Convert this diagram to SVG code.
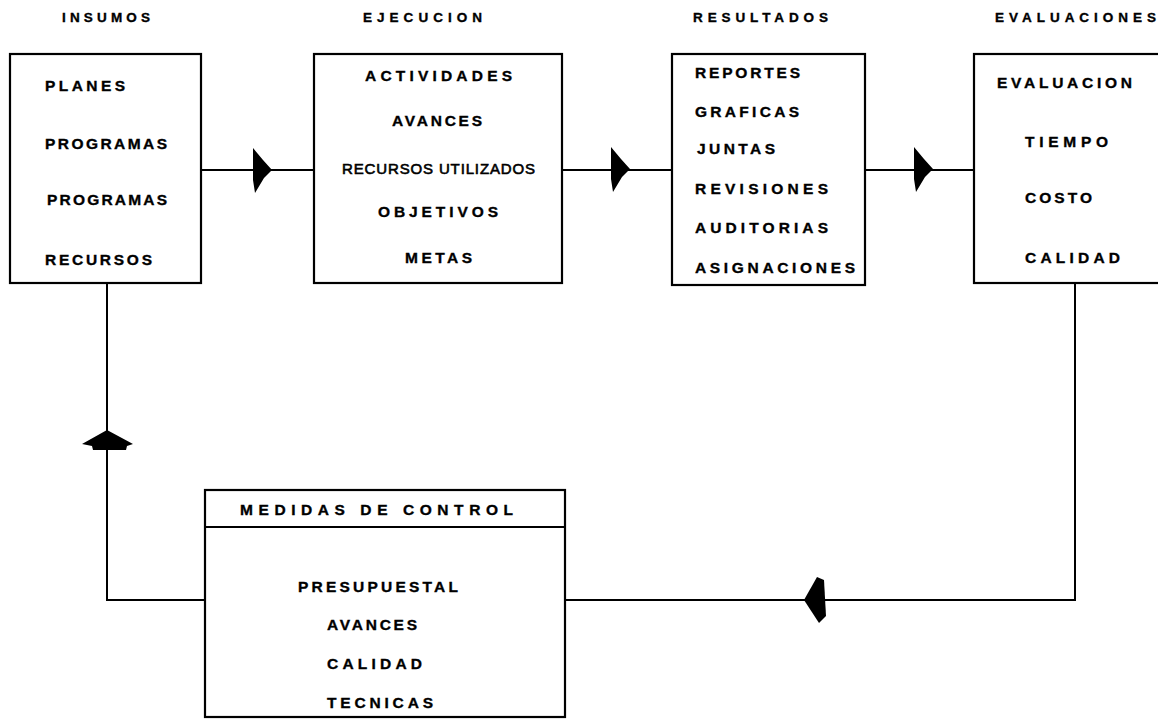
<svg xmlns="http://www.w3.org/2000/svg" width="1158" height="719" viewBox="0 0 1158 719">
  <style>
    .box { fill: #ffffff; stroke: #000000; stroke-width: 2.2; }
    .line { fill: none; stroke: #000000; stroke-width: 2; }
    .head { fill: #000000; stroke: none; }
    text { font-family: "Liberation Sans", Arial, sans-serif; font-weight: bold; fill: #000000; stroke: #000000; stroke-width: 0.35; }
    .title { font-size: 13.5px; }
    .item { font-size: 15.5px; }
    .small { font-size: 15px; font-weight: normal; stroke-width: 0.6; }
  </style>
  <defs>
    <!-- hand-drawn style arrowhead, apex at origin, pointing right -->
    <path id="arrowR" d="M-19,-22 L-9,-10 L0,0 L-8,8 L-17,23 L-19,10 Z"/>
  </defs>

  <rect width="1158" height="719" fill="#ffffff"/>

  <!-- column titles -->
  <g id="titles">
    <text class="title" x="62" y="22" textLength="88" lengthAdjust="spacing">INSUMOS</text>
    <text class="title" x="363" y="22" textLength="119" lengthAdjust="spacing">EJECUCION</text>
    <text class="title" x="693" y="22" textLength="135" lengthAdjust="spacing">RESULTADOS</text>
    <text class="title" x="995" y="22" textLength="161" lengthAdjust="spacing">EVALUACIONES</text>
  </g>

  <!-- connectors -->
  <g id="connectors">
    <line class="line" x1="201" y1="170" x2="314" y2="170"/>
    <line class="line" x1="562" y1="170" x2="672" y2="170"/>
    <line class="line" x1="865" y1="170" x2="974" y2="170"/>
    <polyline class="line" points="1075,283 1075,600 565,600"/>
    <polyline class="line" points="205,600 107,600 107,283"/>
    <use href="#arrowR" class="head" transform="translate(272,170)"/>
    <use href="#arrowR" class="head" transform="translate(630,169)"/>
    <use href="#arrowR" class="head" transform="translate(933,169)"/>
    <path class="head" d="M804,600 L817,577 L824,580 L826,616 L819,623 Z"/>
    <path class="head" d="M107,430 L133,444 L127,446 L126,450 L93,450 L92,446 L82,444 Z"/>
  </g>

  <g id="insumos">
    <rect class="box" x="10" y="54" width="191" height="229"/>
    <text class="item" x="45" y="91" textLength="80" lengthAdjust="spacing">PLANES</text>
    <text class="item" x="45" y="149" textLength="122" lengthAdjust="spacing">PROGRAMAS</text>
    <text class="item" x="47" y="205" textLength="120" lengthAdjust="spacing">PROGRAMAS</text>
    <text class="item" x="45" y="265" textLength="107" lengthAdjust="spacing">RECURSOS</text>
  </g>

  <g id="ejecucion">
    <rect class="box" x="314" y="54" width="248" height="229"/>
    <text class="item" x="365" y="81" textLength="147" lengthAdjust="spacing">ACTIVIDADES</text>
    <text class="item" x="392" y="126" textLength="90" lengthAdjust="spacing">AVANCES</text>
    <text class="small" x="342" y="174" textLength="193" lengthAdjust="spacing">RECURSOS  UTILIZADOS</text>
    <text class="item" x="378" y="217" textLength="120" lengthAdjust="spacing">OBJETIVOS</text>
    <text class="item" x="405" y="263" textLength="67" lengthAdjust="spacing">METAS</text>
  </g>

  <g id="resultados">
    <rect class="box" x="672" y="54" width="193" height="231"/>
    <text class="item" x="695" y="78" textLength="105" lengthAdjust="spacing">REPORTES</text>
    <text class="item" x="695" y="117" textLength="104" lengthAdjust="spacing">GRAFICAS</text>
    <text class="item" x="697" y="154" textLength="78" lengthAdjust="spacing">JUNTAS</text>
    <text class="item" x="695" y="194" textLength="133" lengthAdjust="spacing">REVISIONES</text>
    <text class="item" x="695" y="233" textLength="133" lengthAdjust="spacing">AUDITORIAS</text>
    <text class="item" x="695" y="273" textLength="160" lengthAdjust="spacing">ASIGNACIONES</text>
  </g>

  <g id="evaluaciones">
    <rect class="box" x="974" y="54" width="200" height="229"/>
    <text class="item" x="997" y="88" textLength="135" lengthAdjust="spacing">EVALUACION</text>
    <text class="item" x="1025" y="147" textLength="83" lengthAdjust="spacing">TIEMPO</text>
    <text class="item" x="1025" y="203" textLength="67" lengthAdjust="spacing">COSTO</text>
    <text class="item" x="1025" y="263" textLength="95" lengthAdjust="spacing">CALIDAD</text>
  </g>

  <g id="medidas-de-control">
    <rect class="box" x="205" y="490" width="360" height="227"/>
    <line class="line" x1="205" y1="527" x2="565" y2="527"/>
    <text class="item" x="240" y="515" textLength="273" lengthAdjust="spacing">MEDIDAS   DE   CONTROL</text>
    <text class="item" x="298" y="592" textLength="160" lengthAdjust="spacing">PRESUPUESTAL</text>
    <text class="item" x="327" y="630" textLength="90" lengthAdjust="spacing">AVANCES</text>
    <text class="item" x="327" y="669" textLength="95" lengthAdjust="spacing">CALIDAD</text>
    <text class="item" x="327" y="708" textLength="106" lengthAdjust="spacing">TECNICAS</text>
  </g>
</svg>
